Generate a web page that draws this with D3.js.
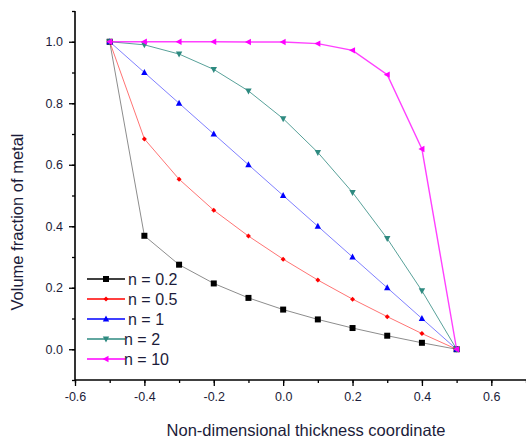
<!DOCTYPE html>
<html>
<head>
<meta charset="utf-8">
<script src="https://cdn.jsdelivr.net/npm/d3@7"></script>
<style>
  html, body { margin: 0; padding: 0; background: #fff; }
  svg { display: block; }
  text { font-family: "Liberation Sans", Arial, sans-serif; }
</style>
</head>
<body>
<svg id="chart" width="526" height="441"></svg>
<script>
// Thickness coordinate z/h
const zValues = [-0.5, -0.4, -0.3, -0.2, -0.1, 0.0, 0.1, 0.2, 0.3, 0.4, 0.5];

// Volume fraction of metal for each power-law index n
const vfN02 = [1.0, 0.369, 0.275, 0.214, 0.167, 0.129, 0.097, 0.069, 0.044, 0.021, 0.0];
const vfN05 = [1.0, 0.684, 0.553, 0.452, 0.368, 0.293, 0.225, 0.163, 0.106, 0.051, 0.0];
const vfN1  = [1.0, 0.9, 0.8, 0.7, 0.6, 0.5, 0.4, 0.3, 0.2, 0.1, 0.0];
const vfN2  = [1.0, 0.99, 0.96, 0.91, 0.84, 0.75, 0.64, 0.51, 0.36, 0.19, 0.0];
const vfN10 = [1.0, 1.0, 1.0, 1.0, 0.999, 0.999, 0.994, 0.972, 0.893, 0.651, 0.0];

const seriesNames = ["n = 0.2", "n = 0.5", "n = 1", "n = 2", "n = 10"];

const xTicks = [-0.6, -0.4, -0.2, 0.0, 0.2, 0.4, 0.6];
const yTicks = [0.0, 0.2, 0.4, 0.6, 0.8, 1.0];

const series = [
  { name: seriesNames[0], values: vfN02, color: "#000000", marker: "square",   lineOpacity: 0.45, lineWidth: 1 },
  { name: seriesNames[1], values: vfN05, color: "#ff0000", marker: "diamond",  lineOpacity: 0.55, lineWidth: 1 },
  { name: seriesNames[2], values: vfN1,  color: "#0000ff", marker: "triUp",    lineOpacity: 0.5,  lineWidth: 1 },
  { name: seriesNames[3], values: vfN2,  color: "#2e8a80", marker: "triDown",  lineOpacity: 0.8,  lineWidth: 1 },
  { name: seriesNames[4], values: vfN10, color: "#ff00ff", marker: "triLeft",  lineOpacity: 0.75, lineWidth: 1.4 }
];

const svg = d3.select("#chart");
const plotLeft = 75, plotRight = 526, plotTop = 11, plotBottom = 380;

const x = d3.scaleLinear().domain([-0.6, 0.7]).range([plotLeft, plotRight]);
const y = d3.scaleLinear().domain([-0.1, 1.1]).range([plotBottom, plotTop]);

const textColor = "#1c1c3a";
const tickFont = 12.5;
// Plain hyphen-minus for negative tick labels
const fmt = d => (Math.abs(d) < 1e-9 ? 0 : d).toFixed(1);

// Minor ticks every 0.1
const xMinor = d3.range(-6, 8).map(d => d / 10);
const yMinor = d3.range(-1, 12).map(d => d / 10);

const axes = svg.append("g");

// Y axis
const yAxis = axes.append("g").attr("transform", `translate(${plotLeft},0)`);
yAxis.call(d3.axisLeft(y).tickValues(yMinor).tickSize(3).tickFormat(""))
  .call(g => g.select(".domain").remove());
yAxis.append("g").call(d3.axisLeft(y).tickValues(yTicks).tickSize(6).tickPadding(6).tickFormat(fmt))
  .call(g => g.select(".domain").remove())
  .call(g => g.selectAll("text").attr("font-size", tickFont).attr("fill", textColor)
    .attr("font-family", "Liberation Sans, Arial, sans-serif"));
yAxis.selectAll("line").attr("stroke", "#000").attr("stroke-width", 1.3);
yAxis.append("line").attr("x1", 0).attr("x2", 0).attr("y1", plotTop).attr("y2", plotBottom)
  .attr("stroke", "#000").attr("stroke-width", 1.6);

// X axis
const xAxis = axes.append("g").attr("transform", `translate(0,${plotBottom})`);
xAxis.call(d3.axisBottom(x).tickValues(xMinor).tickSize(3).tickFormat(""))
  .call(g => g.select(".domain").remove());
xAxis.append("g").call(d3.axisBottom(x).tickValues(xTicks).tickSize(6).tickPadding(6).tickFormat(fmt))
  .call(g => g.select(".domain").remove())
  .call(g => g.selectAll("text").attr("font-size", tickFont).attr("fill", textColor)
    .attr("font-family", "Liberation Sans, Arial, sans-serif"));
xAxis.selectAll("line").attr("stroke", "#000").attr("stroke-width", 1.3);
xAxis.append("line").attr("x1", plotLeft).attr("x2", plotRight).attr("y1", 0).attr("y2", 0)
  .attr("stroke", "#000").attr("stroke-width", 1.6);

// Axis titles
svg.append("text")
  .attr("x", 306).attr("y", 436)
  .attr("text-anchor", "middle")
  .attr("font-size", 16.5).attr("fill", textColor)
  .text("Non-dimensional thickness coordinate");

svg.append("text")
  .attr("transform", `translate(23,222) rotate(-90)`)
  .attr("text-anchor", "middle")
  .attr("font-size", 16.5).attr("fill", textColor)
  .text("Volume fraction of metal");

// Marker shapes
function markerPath(type) {
  switch (type) {
    case "square":  return "M-3,-3L3,-3L3,3L-3,3Z";
    case "diamond": return "M0,-2.5L2.5,0L0,2.5L-2.5,0Z";
    case "triUp":   return "M0,-3.5L3.2,2.5L-3.2,2.5Z";
    case "triDown": return "M0,3.5L3.2,-2.5L-3.2,-2.5Z";
    case "triLeft": return "M-3.5,0L2.5,-3.2L2.5,3.2Z";
  }
}

const line = d3.line().x(d => x(d[0])).y(d => y(d[1]));

const plot = svg.append("g");
series.forEach(s => {
  const pts = zValues.map((z, i) => [z, s.values[i]]);
  const g = plot.append("g");
  g.append("path")
    .attr("d", line(pts))
    .attr("fill", "none")
    .attr("stroke", s.color)
    .attr("stroke-opacity", s.lineOpacity)
    .attr("stroke-width", s.lineWidth);
  g.selectAll("path.m").data(pts).enter().append("path")
    .attr("class", "m")
    .attr("transform", d => `translate(${x(d[0])},${y(d[1])})`)
    .attr("d", markerPath(s.marker))
    .attr("fill", s.color);
});

// Legend
const legend = svg.append("g");
const legendX0 = 87, legendX1 = 125, legendY0 = 279, legendStep = 20;
series.forEach((s, i) => {
  const yy = legendY0 + i * legendStep;
  legend.append("line")
    .attr("x1", legendX0).attr("x2", legendX1).attr("y1", yy).attr("y2", yy)
    .attr("stroke", s.color).attr("stroke-width", 1.6);
  legend.append("path")
    .attr("transform", `translate(${(legendX0 + legendX1) / 2},${yy})`)
    .attr("d", markerPath(s.marker))
    .attr("fill", s.color);
  legend.append("text")
    .attr("x", i >= 3 ? 124 : 128).attr("y", yy + 6)
    .attr("font-size", 16).attr("fill", textColor)
    .text(s.name);
});
</script>
</body>
</html>
